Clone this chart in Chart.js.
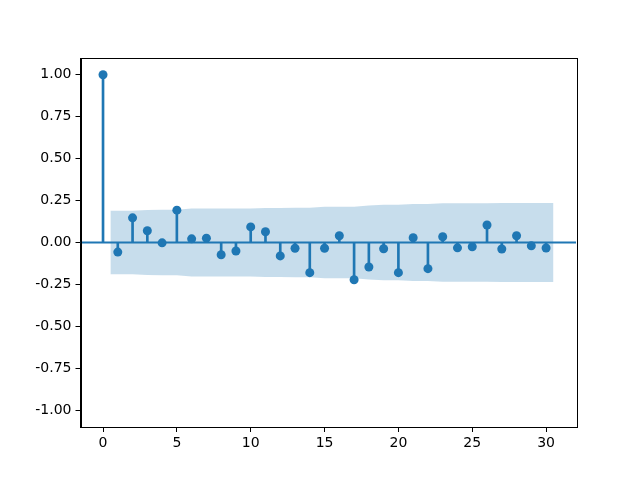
<!DOCTYPE html>
<html>
<head>
<meta charset="utf-8">
<script src="https://cdn.jsdelivr.net/npm/chart.js@4.4.0/dist/chart.umd.min.js"></script>
<style>
  html, body { margin: 0; padding: 0; background: #fff; }
  #wrap { width: 640px; height: 480px; }
</style>
</head>
<body>
<div id="wrap"><canvas id="acf" width="640" height="480"></canvas></div>
<script>
// autocorrelation by lag
var lags = [0, 1, 2, 3, 4, 5, 6, 7, 8, 9, 10, 11, 12, 13, 14, 15,
            16, 17, 18, 19, 20, 21, 22, 23, 24, 25, 26, 27, 28, 29, 30];
var acfValues = [1.0, -0.057, 0.147, 0.07, -0.002, 0.193, 0.022, 0.026, -0.073, -0.051, 0.093,
                 0.064, -0.08, -0.034, -0.18, -0.034, 0.04, -0.222, -0.146, -0.037, -0.18,
                 0.028, -0.156, 0.034, -0.032, -0.025, 0.104, -0.039, 0.04, -0.02, -0.033];
// half width of the confidence band at lags 1..30
var bandLags = [0.5, 2, 3, 4, 5, 6, 7, 8, 9, 10, 11, 12, 13, 14, 15,
                16, 17, 18, 19, 20, 21, 22, 23, 24, 25, 26, 27, 28, 29, 30.5];
var bandWidth = [0.190, 0.190, 0.194, 0.195, 0.195, 0.202, 0.202, 0.202, 0.203, 0.203,
                 0.205, 0.206, 0.207, 0.207, 0.213, 0.213, 0.213, 0.221, 0.225, 0.225,
                 0.230, 0.230, 0.234, 0.234, 0.234, 0.234, 0.236, 0.236, 0.236, 0.236];
var xTicks = [0, 5, 10, 15, 20, 25, 30];
var yTicks = [-1.0, -0.75, -0.5, -0.25, 0.0, 0.25, 0.5, 0.75, 1.0];

var blue = '#1f77b4';

var points = lags.map(function(l, i) { return {x: l, y: acfValues[i]}; });
var upper = bandLags.map(function(l, i) { return {x: l, y: bandWidth[i]}; });
var lower = bandLags.map(function(l, i) { return {x: l, y: -bandWidth[i]}; });

var frame = {
    id: 'frame',
    afterDraw: function(chart) {
        var a = chart.chartArea, c = chart.ctx;
        c.save();
        c.strokeStyle = '#000';
        c.lineWidth = 1;
        c.strokeRect(Math.round(a.left) + 0.5, Math.round(a.top) + 0.5,
                     Math.round(a.right - a.left), Math.round(a.bottom - a.top));
        c.restore();
    }
};

var font = {family: 'DejaVu Sans', size: 14};

new Chart(document.getElementById('acf'), {
    type: 'bar',
    data: {
        datasets: [
            {
                type: 'bar',
                data: points,
                backgroundColor: blue,
                barThickness: 2,
                grouped: false,
                order: 2
            },
            {
                type: 'scatter',
                data: points,
                backgroundColor: blue,
                borderWidth: 0,
                pointRadius: 4.5,
                pointHoverRadius: 4.5,
                order: 1
            },
            {
                type: 'line',
                data: [{x: -1.525, y: 0}, {x: 32.025, y: 0}],
                borderColor: blue,
                borderWidth: 2,
                pointRadius: 0,
                order: 3
            },
            {
                type: 'line',
                data: upper,
                borderWidth: 0,
                borderColor: 'rgba(0,0,0,0)',
                backgroundColor: 'rgba(31,119,180,0.25)',
                pointRadius: 0,
                fill: '+1',
                order: 4
            },
            {
                type: 'line',
                data: lower,
                borderWidth: 0,
                borderColor: 'rgba(0,0,0,0)',
                pointRadius: 0,
                fill: false,
                order: 5
            }
        ]
    },
    options: {
        responsive: false,
        animation: false,
        layout: {padding: {top: 58, right: 64, left: 0, bottom: 0}},
        plugins: {legend: {display: false}, tooltip: {enabled: false}},
        scales: {
            x: {
                type: 'linear',
                min: -1.525,
                max: 32.025,
                offset: false,
                afterBuildTicks: function(s) { s.ticks = xTicks.map(function(v) { return {value: v}; }); },
                afterFit: function(s) { s.height = 53; },
                grid: {offset: false, drawOnChartArea: false, drawTicks: true, tickLength: 5, color: '#000'},
                border: {display: true, color: '#000'},
                ticks: {color: '#000', font: font, padding: 3, maxRotation: 0}
            },
            y: {
                type: 'linear',
                min: -1.1,
                max: 1.1,
                afterBuildTicks: function(s) { s.ticks = yTicks.map(function(v) { return {value: v}; }); },
                afterFit: function(s) { s.width = 80.5; },
                grid: {offset: false, drawOnChartArea: false, drawTicks: true, tickLength: 5, color: '#000'},
                border: {display: true, color: '#000'},
                ticks: {
                    color: '#000', font: font, padding: 4,
                    callback: function(v) { return v.toFixed(2); }
                }
            }
        }
    },
    plugins: [frame]
});
</script>
</body>
</html>
